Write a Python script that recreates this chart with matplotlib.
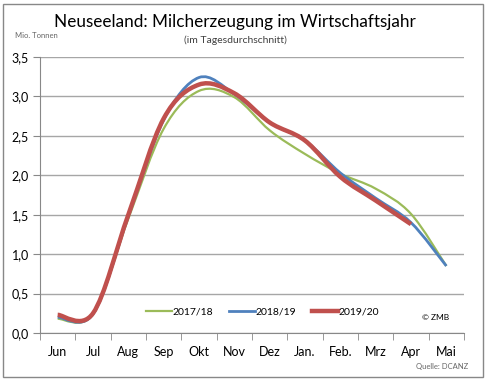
import matplotlib
matplotlib.use("Agg")
import matplotlib.pyplot as plt
import numpy as np
from matplotlib.path import Path
from matplotlib.patches import PathPatch, Rectangle
from matplotlib.lines import Line2D

plt.rcParams['font.family'] = ['Lato', 'DejaVu Sans']

months = ['Jun', 'Jul', 'Aug', 'Sep', 'Okt', 'Nov', 'Dez', 'Jan.', 'Feb.', 'Mrz', 'Apr', 'Mai']
y1718 = [0.18, 0.24, 1.45, 2.59, 3.07, 2.99, 2.57, 2.27, 2.02, 1.83, 1.51, 0.85]
y1819 = [0.20, 0.24, 1.48, 2.70, 3.24, 3.03, 2.67, 2.44, 2.03, 1.71, 1.40, 0.85]
y1920 = [0.23, 0.25, 1.50, 2.72, 3.15, 3.04, 2.67, 2.44, 1.98, 1.68, 1.38]
series = ['2017/18', '2018/19', '2019/20']
colors = ['#9BBB59', '#4F81BD', '#C0504D']
widths = [1.6, 2.0, 3.2]


def smooth_path(ys):
    # Excel-artige Glättung: Catmull-Rom als Bezier-Kurven
    p = np.column_stack([np.arange(len(ys)), ys]).astype(float)
    ext = np.vstack([p[0], p, p[-1]])
    verts = [p[0]]
    codes = [Path.MOVETO]
    for i in range(len(p) - 1):
        p0, p1, p2, p3 = ext[i], ext[i + 1], ext[i + 2], ext[i + 3]
        verts += [p1 + (p2 - p0) / 6, p2 - (p3 - p1) / 6, p2]
        codes += [Path.CURVE4] * 3
    return Path(verts, codes)


fig = plt.figure(figsize=(4.86, 3.81), dpi=100)
ax = fig.add_axes([40 / 486, 1 - 333 / 381, 424 / 486, 276 / 381])

for ys, c, lw in zip([y1718, y1819, y1920], colors, widths):
    ax.add_patch(PathPatch(smooth_path(ys), fill=False, edgecolor=c, lw=lw,
                           capstyle='butt', joinstyle='round'))

ax.set_xlim(-0.5, 11.5)
ax.set_ylim(0, 3.5)
ax.set_yticks(np.arange(0, 3.51, 0.5))
ax.set_yticklabels([f"{v:.1f}".replace('.', ',') for v in np.arange(0, 3.51, 0.5)], fontsize=9)
ax.set_xticks(range(12))
ax.set_xticklabels(months, fontsize=9)
ax.set_xticks(np.arange(-0.5, 12, 1), minor=True)
ax.tick_params(axis='x', which='major', length=0, pad=9)
ax.tick_params(axis='x', which='minor', length=5, color='#888888')
ax.tick_params(axis='y', length=5, color='#888888', pad=3)
ax.grid(axis='y', color='#a6a6a6', lw=1)
ax.set_axisbelow(True)
for s in ['top', 'right']:
    ax.spines[s].set_visible(False)
for s in ['left', 'bottom']:
    ax.spines[s].set_color('#888888')

handles = [Line2D([], [], color=c, lw=lw) for c, lw in zip(colors, widths)]
fig.legend(handles, series, loc='center', bbox_to_anchor=(0.54, 1 - 312 / 381),
           ncol=3, frameon=False, fontsize=7.5, handlelength=2.5, handletextpad=0.05,
           columnspacing=1.5)

fig.text(235 / 486, 1 - 22 / 381, 'Neuseeland: Milcherzeugung im Wirtschaftsjahr',
         ha='center', va='center', fontsize=12.3)
fig.text(235 / 486, 1 - 40 / 381, '(im Tagesdurchschnitt)', ha='center', va='center',
         fontsize=7.5, color='#404040')
fig.text(15 / 486, 1 - 36 / 381, 'Mio. Tonnen', ha='left', va='center', fontsize=5.5,
         color='#666666')
fig.text(436 / 486, 1 - 318 / 381, '© ZMB', ha='center', va='center', fontsize=6)
fig.text(468 / 486, 1 - 367 / 381, 'Quelle: DCANZ', ha='right', va='center', fontsize=5.5,
         color='#666666')

fig.patches.append(Rectangle((3 / 486, 1 - 377 / 381), 480 / 486, 373 / 381,
                             transform=fig.transFigure, fill=False,
                             edgecolor='#888888', lw=1))

fig.savefig('out.png', dpi=100)
